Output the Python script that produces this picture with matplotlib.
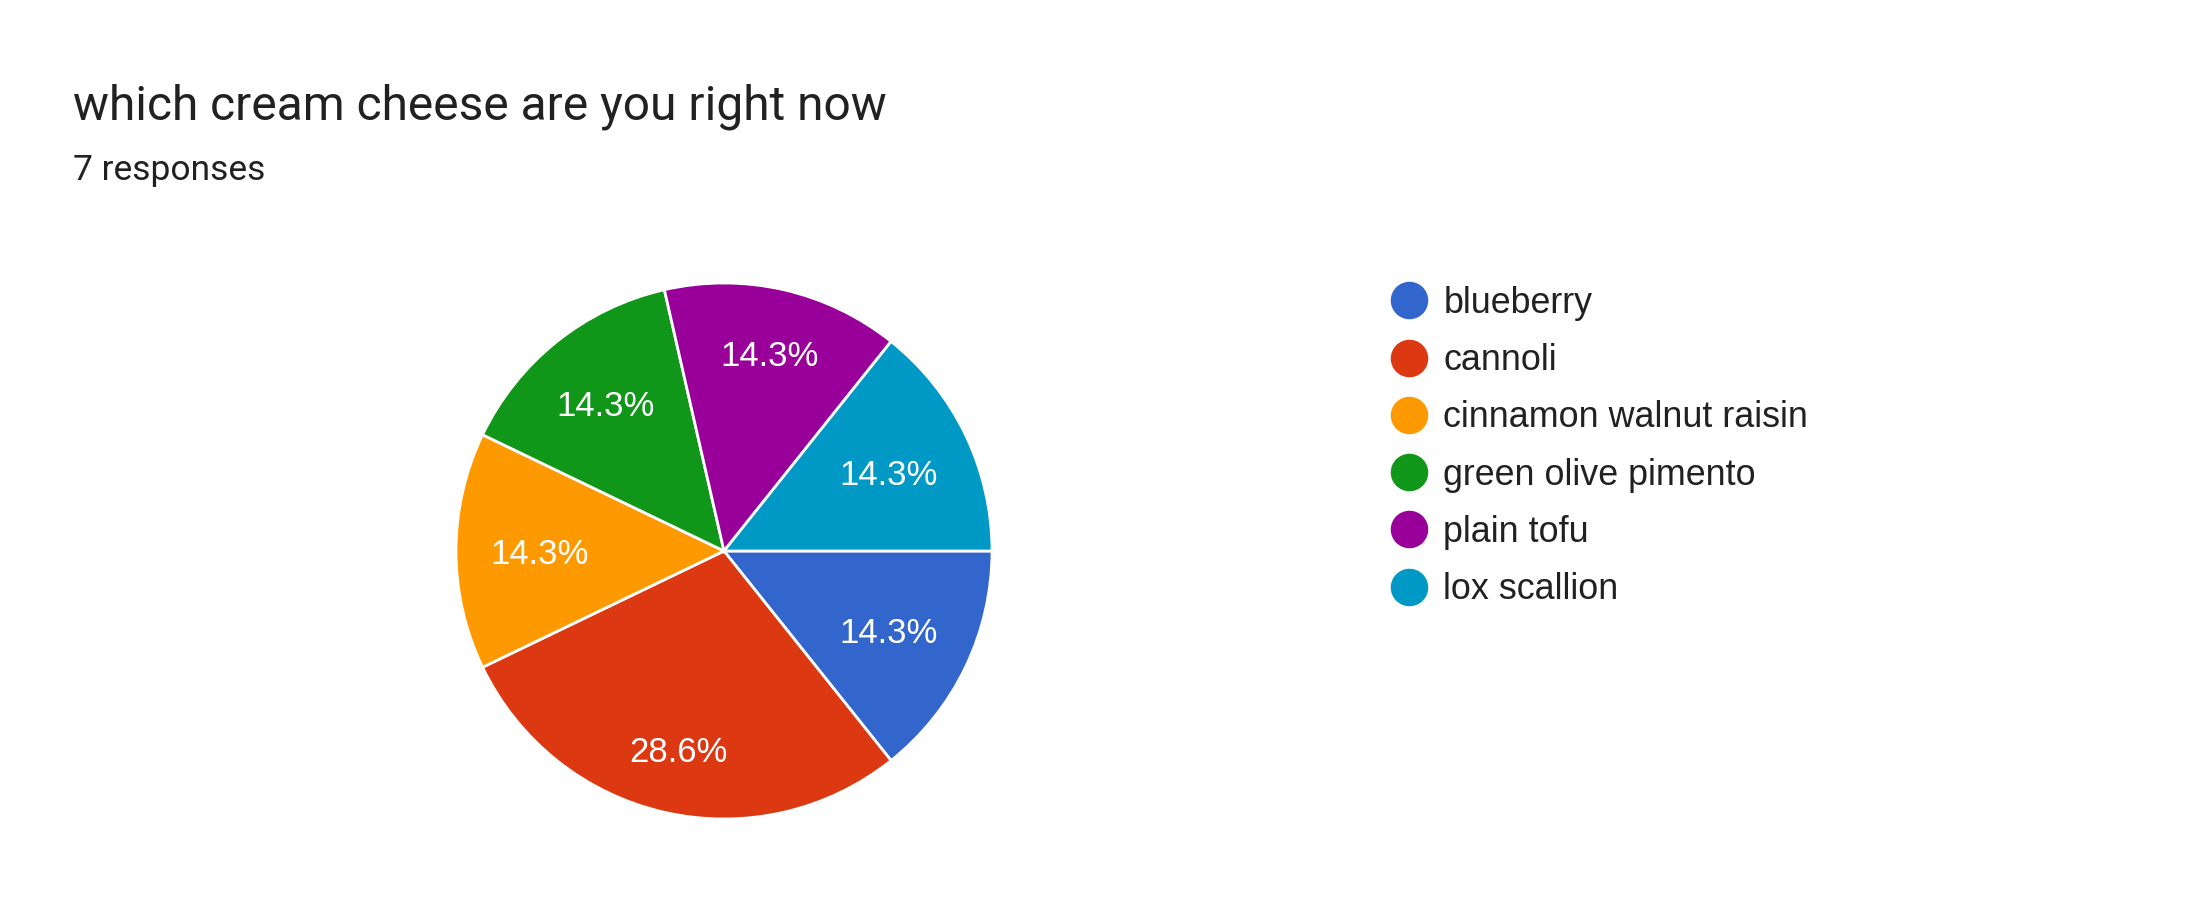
import matplotlib
matplotlib.use('Agg')
import matplotlib.pyplot as plt
import numpy as np
from matplotlib.lines import Line2D

plt.rcParams['font.family'] = ['Roboto', 'DejaVu Sans']

# dados
categorias = ['blueberry', 'cannoli', 'cinnamon walnut raisin',
              'green olive pimento', 'plain tofu', 'lox scallion']
respostas = [1, 2, 1, 1, 1, 1]
cores = ['#3366cc', '#dc3912', '#ff9900', '#109618', '#990099', '#0099c6']
titulo = 'which cream cheese are you right now'
subtitulo = '7 responses'

W, H = 2199, 924
fig = plt.figure(figsize=(W / 100, H / 100), dpi=100)

# pizza: centro ~ (724, 551) px, raio ~ 268 px
cx, cy, r = 724, 551, 268
ax = fig.add_axes([(cx - r) / W, (H - cy - r) / H, 2 * r / W, 2 * r / H])
wedges, _, pcts = ax.pie(respostas, colors=cores, startangle=0, counterclock=False,
                         autopct='%.1f%%', pctdistance=0.7,
                         wedgeprops=dict(edgecolor='white', linewidth=2),
                         textprops=dict(color='white', fontsize=25,
                                        family=['Liberation Sans']))
ax.set_xlim(-1, 1)
ax.set_ylim(-1, 1)
ax.axis('off')

# rótulos como no Google Charts: canto externo do texto a ~0.875 do raio
fig.canvas.draw()
rend = fig.canvas.get_renderer()
for w, t in zip(wedges, pcts):
    ang = np.deg2rad((w.theta1 + w.theta2) / 2)
    c, s = np.cos(ang), np.sin(ang)
    bb = t.get_window_extent(rend)
    hw, hh = bb.width / 2 / r, bb.height / 2 / r
    b = hw * abs(c) + hh * abs(s)
    d = -b + np.sqrt(b ** 2 - (hw ** 2 + hh ** 2 - 0.875 ** 2))
    t.set_position((d * c, d * s))
    t.set_va('center_baseline')

fig.text(73 / W, 1 - 120 / H, titulo, fontsize=34.5, color='#212121', va='baseline')
fig.text(73 / W, 1 - 180 / H, subtitulo, fontsize=25.5, color='#212121', va='baseline')

handles = [Line2D([], [], marker='o', ls='', markersize=26, color=c) for c in cores]
fig.legend(handles, categorias, loc='upper left', bbox_to_anchor=(1391 / W, 1 - 286 / H),
           frameon=False, handlelength=1, handletextpad=0.46,
           labelspacing=0.62, borderpad=0, borderaxespad=0, labelcolor='#212121',
           prop=dict(family='Liberation Sans', size=25.8))

fig.savefig('out.png', dpi=100)
